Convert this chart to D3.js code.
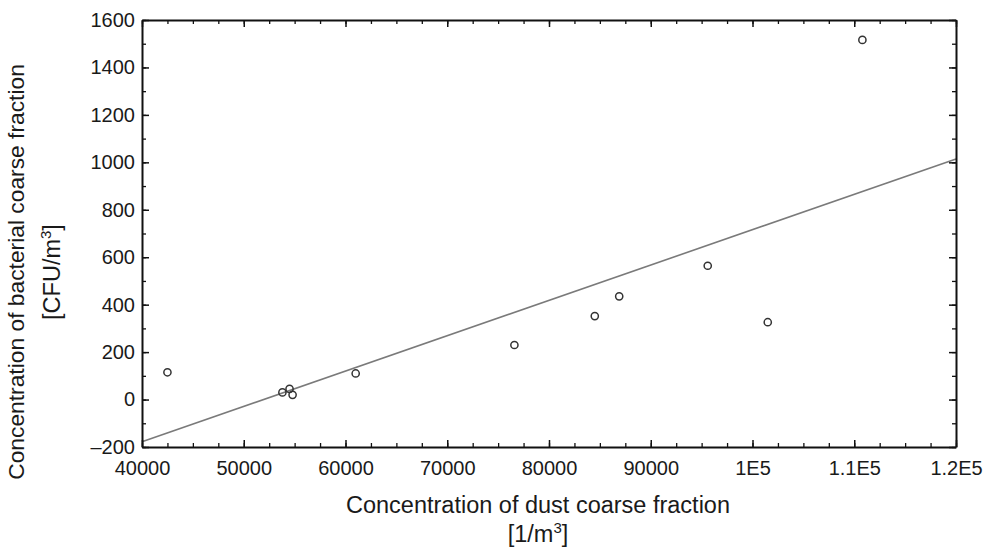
<!DOCTYPE html>
<html><head><meta charset="utf-8">
<script src="https://cdn.jsdelivr.net/npm/d3@7"></script>
<style>
html,body{margin:0;padding:0;background:#fff;}
svg text{font-family:"Liberation Sans",Arial,sans-serif;fill:#1a1a1a;}
</style></head>
<body><svg id="c" width="990" height="547"></svg>
<script>
// data
const dustX = [42500, 53800, 54500, 54800, 61000, 76600, 84500, 86900, 95600, 101500, 110800];
const bactY = [115, 30, 45, 20, 110, 230, 352, 435, 564, 326, 1516];
const xTicks = [40000, 50000, 60000, 70000, 80000, 90000, 100000, 110000, 120000];
const xTickLabels = ["40000", "50000", "60000", "70000", "80000", "90000", "1E5", "1.1E5", "1.2E5"];
const yTicks = [-200, 0, 200, 400, 600, 800, 1000, 1200, 1400, 1600];
const yTickLabels = ["\u2013200", "0", "200", "400", "600", "800", "1000", "1200", "1400", "1600"];

const svg = d3.select("#c");
const L = 142, R = 956, T = 20, B = 447;
const x = d3.scaleLinear().domain([40000, 120000]).range([L, R]);
const y = d3.scaleLinear().domain([-200, 1600]).range([B, T]);

// regression line (least squares)
const mx = d3.mean(dustX), my = d3.mean(bactY);
let sxy = 0, sxx = 0;
dustX.forEach((d, i) => { sxy += (d - mx) * (bactY[i] - my); sxx += (d - mx) * (d - mx); });
const slope = sxy / sxx, icpt = my - slope * mx;
const xd = x.domain();
svg.append("path")
  .attr("d", d3.line()([[x(xd[0]), y(icpt + slope * xd[0])], [x(xd[1]), y(icpt + slope * xd[1])]]))
  .attr("stroke", "#7a7a7a").attr("stroke-width", 1.6).attr("fill", "none");

// points
svg.append("g").selectAll("circle").data(dustX).join("circle")
  .attr("cx", d => x(d)).attr("cy", (d, i) => y(bactY[i])).attr("r", 3.6)
  .attr("fill", "none").attr("stroke", "#333").attr("stroke-width", 1.5);

// axes with inward ticks
const xMinor = d3.range(40000, 120001, 2500);
const yMinor = d3.range(-200, 1601, 100);
function addAxis(axisFn, scale, tr, minor, major, labels, show, pad) {
  const gMin = svg.append("g").attr("transform", tr)
    .call(axisFn(scale).tickValues(minor).tickSize(-4).tickFormat(""));
  gMin.select(".domain").remove();
  gMin.selectAll("line").attr("stroke", "#111").attr("stroke-width", 1.3);
  const g = svg.append("g").attr("transform", tr)
    .call(axisFn(scale).tickValues(major).tickSizeInner(-7).tickSizeOuter(0).tickPadding(show ? pad : 0)
      .tickFormat((d, i) => show ? labels[i] : ""));
  g.select(".domain").attr("stroke", "#111").attr("stroke-width", 2);
  g.selectAll("line").attr("stroke", "#111").attr("stroke-width", 1.5);
  g.selectAll("text").attr("font-size", 20).attr("font-family", "Liberation Sans, Arial, sans-serif").attr("fill", "#1a1a1a");
  return g;
}
addAxis(d3.axisBottom, x, `translate(0,${B})`, xMinor, xTicks, xTickLabels, true, 14);
addAxis(d3.axisTop, x, `translate(0,${T})`, xMinor, xTicks, xTickLabels, false, 0);
addAxis(d3.axisLeft, y, `translate(${L},0)`, yMinor, yTicks, yTickLabels, true, 7);
addAxis(d3.axisRight, y, `translate(${R},0)`, yMinor, yTicks, yTickLabels, false, 0);

// axis titles
const xt = svg.append("text").attr("text-anchor", "middle").attr("font-size", 23.5)
  .attr("x", 538).attr("y", 513).text("Concentration of dust coarse fraction");
const xt2 = svg.append("text").attr("text-anchor", "middle").attr("font-size", 23.5).attr("x", 538).attr("y", 542);
xt2.append("tspan").text("[1/m");
xt2.append("tspan").attr("font-size", 15).attr("dy", -9).text("3");
xt2.append("tspan").attr("dy", 9).text("]");

const yt = svg.append("text").attr("text-anchor", "middle").attr("font-size", 22.8)
  .attr("transform", "translate(24,272) rotate(-90)").text("Concentration of bacterial coarse fraction");
const yt2 = svg.append("text").attr("text-anchor", "middle").attr("font-size", 23.5)
  .attr("transform", "translate(60,272) rotate(-90)");
yt2.append("tspan").text("[CFU/m");
yt2.append("tspan").attr("font-size", 15).attr("dy", -9).text("3");
yt2.append("tspan").attr("dy", 9).text("]");
</script></body></html>
